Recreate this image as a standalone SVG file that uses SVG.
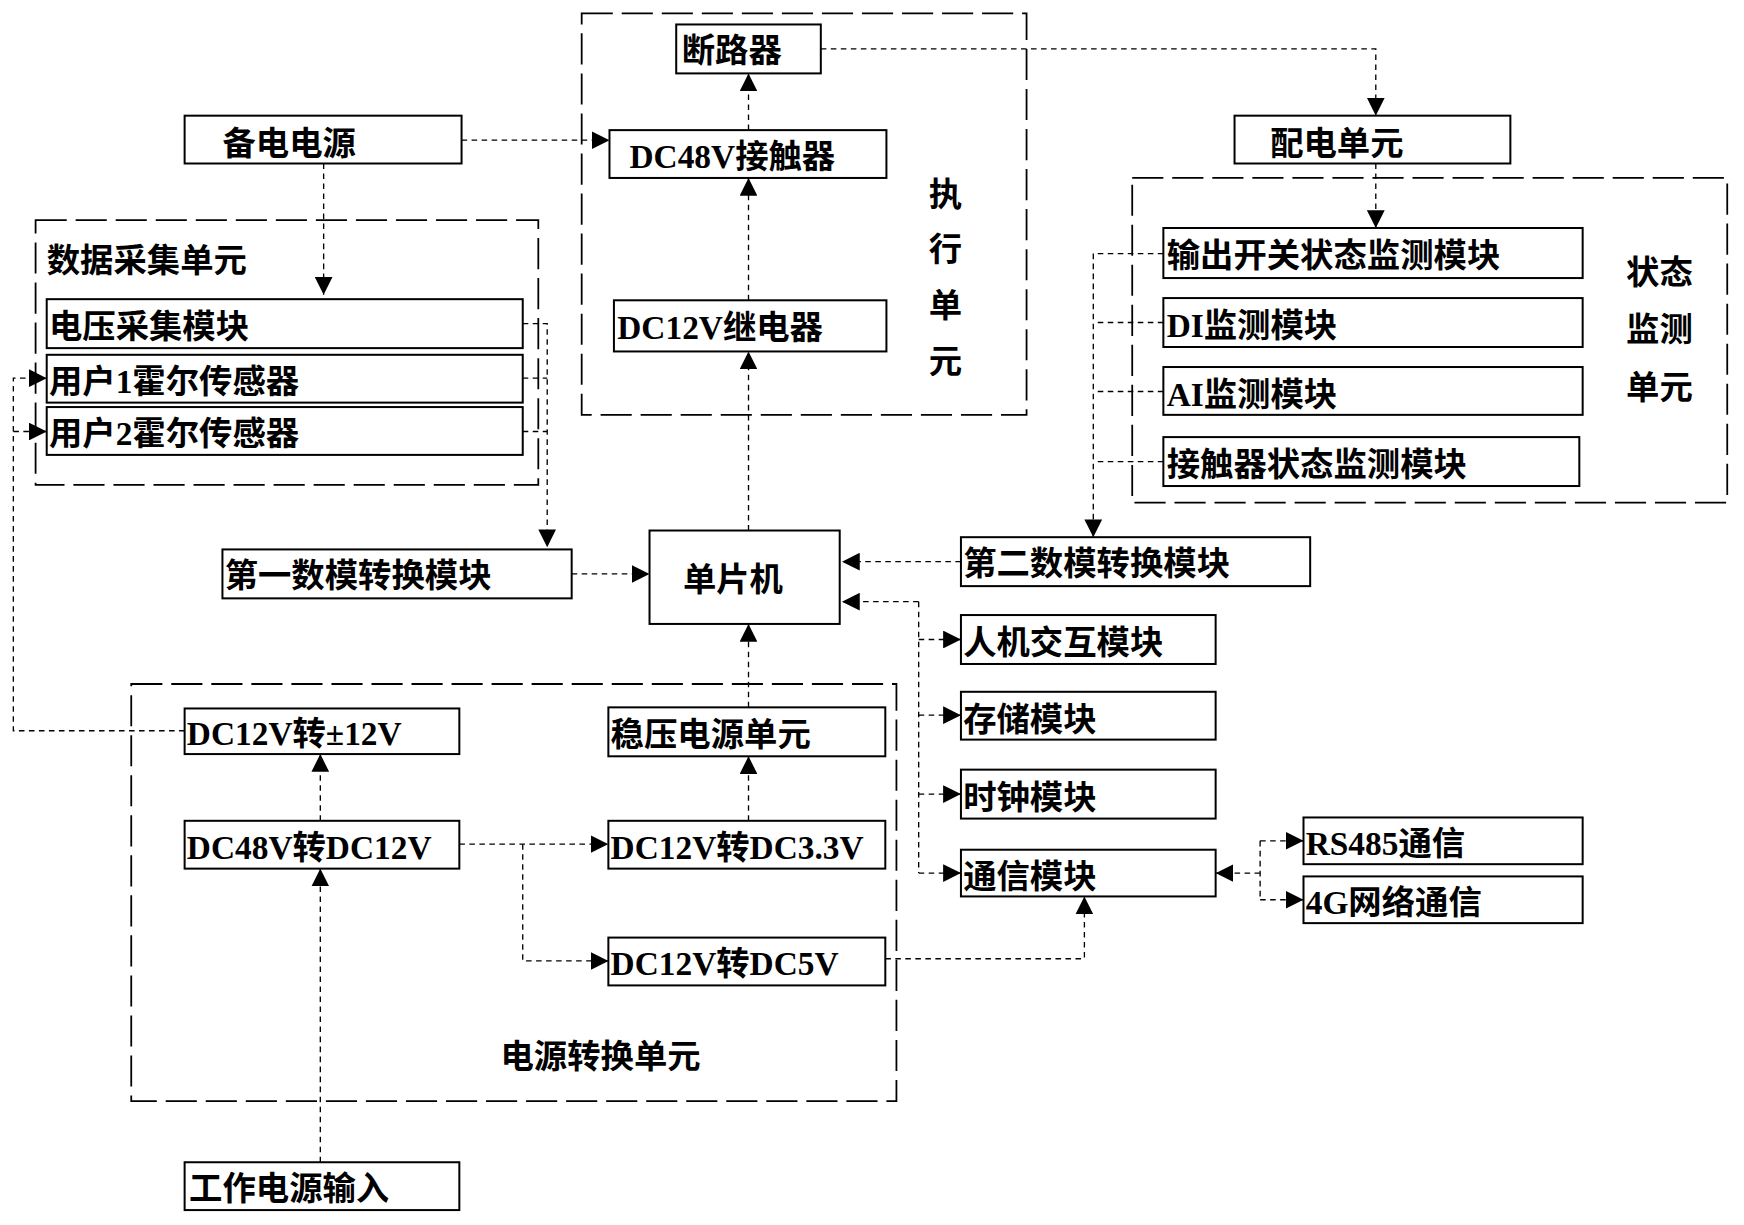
<svg xmlns="http://www.w3.org/2000/svg" width="1744" height="1225" viewBox="0 0 1744 1225">
<defs>
<style>
.b{fill:#fff;stroke:#000;stroke-width:1.8}
.g{fill:none;stroke:#000;stroke-width:1.6;stroke-dasharray:28 8}
.c{fill:none;stroke:#000;stroke-width:1.2;stroke-dasharray:5 4}
text{font-family:"Liberation Serif","Noto Sans CJK SC",serif;font-size:30px;font-weight:bold;fill:#000}
</style>
<marker id="a" viewBox="0 0 10 10" refX="10" refY="5" markerWidth="16" markerHeight="16" markerUnits="userSpaceOnUse" orient="auto"><path d="M0,0L10,5L0,10z" fill="#000"/></marker>
</defs>
<rect width="1744" height="1225" fill="#fff"/>
<g transform="scale(1.1122)">
<g id="groups">
<path class="g" d="M523,12H923V373H523Z"/>
<path class="g" d="M32,198H484V436H32Z"/>
<path class="g" d="M1018,160H1553V452H1018Z"/>
<path class="g" d="M118,615H806V990H118Z"/>
<text x="835" y="185">执</text><text x="835" y="235">行</text><text x="835" y="285">单</text><text x="835" y="335">元</text>
<text x="42" y="245">数据采集单元</text>
<text x="1462" y="255">状态</text><text x="1462" y="307">监测</text><text x="1462" y="359">单元</text>
<text x="450" y="960">电源转换单元</text>
</g>
<g id="connectors" class="c" marker-end="url(#a)">
<path d="M738,44H1237V104"/>
<path d="M415,126H548"/>
<path d="M291,147V265"/>
<path d="M673,117V66"/>
<path d="M673,270V160"/>
<path d="M673,477V316"/>
<path d="M1237,147V205"/>
<path d="M470,291H492V492" />
<path d="M470,340H492" marker-end="none"/>
<path d="M470,388H492" marker-end="none"/>
<path d="M514,516H584"/>
<path d="M864,505H757"/>
<path d="M1046,228H983V483"/>
<path d="M1046,290H985" marker-end="none"/>
<path d="M1046,352H985" marker-end="none"/>
<path d="M1046,415H985" marker-end="none"/>
<path d="M826,541H757"/>
<path d="M826,541V785" marker-end="none"/>
<path d="M826,575H864"/><path d="M826,643H864"/><path d="M826,714H864"/><path d="M826,785H864"/>
<path d="M1133,785H1093"/>
<path d="M1133,756V809" marker-end="none"/>
<path d="M1133,756H1172"/><path d="M1133,809H1172"/>
<path d="M796,862H975V806"/>
<path d="M673,636V561"/>
<path d="M673,738V680"/>
<path d="M413,759H547"/>
<path d="M470,759V864H547"/>
<path d="M288,738V678"/>
<path d="M288,1045V781"/>
<path d="M166,657H12V340H42"/>
<path d="M12,388H42"/>
</g>
<g id="n1"><rect class="b" x="608" y="22" width="130" height="44"/><text x="613" y="56">断路器</text></g>
<g id="n2"><rect class="b" x="548" y="117" width="249" height="43"/><text x="566" y="151">DC48V接触器</text></g>
<g id="n3"><rect class="b" x="552" y="270" width="245" height="46"/><text x="555" y="305">DC12V继电器</text></g>
<g id="n4"><rect class="b" x="166" y="104" width="249" height="43"/><text x="200" y="139">备电电源</text></g>
<g id="n5"><rect class="b" x="42" y="269" width="428" height="44"/><text x="44" y="304">电压采集模块</text></g>
<g id="n6"><rect class="b" x="42" y="319" width="428" height="43"/><text x="44" y="353">用户1霍尔传感器</text></g>
<g id="n7"><rect class="b" x="42" y="366" width="428" height="43"/><text x="44" y="400">用户2霍尔传感器</text></g>
<g id="n8"><rect class="b" x="200" y="494" width="314" height="44"/><text x="202" y="528">第一数模转换模块</text></g>
<g id="n9"><rect class="b" x="584" y="477" width="171" height="84"/><text x="614" y="531">单片机</text></g>
<g id="n10"><rect class="b" x="864" y="483" width="314" height="44"/><text x="866" y="517">第二数模转换模块</text></g>
<g id="n11"><rect class="b" x="1110" y="104" width="248" height="43"/><text x="1142" y="139">配电单元</text></g>
<g id="n12"><rect class="b" x="1046" y="205" width="377" height="45"/><text x="1049" y="240">输出开关状态监测模块</text></g>
<g id="n13"><rect class="b" x="1046" y="268" width="377" height="44"/><text x="1049" y="303">DI监测模块</text></g>
<g id="n14"><rect class="b" x="1046" y="330" width="377" height="43"/><text x="1049" y="365">AI监测模块</text></g>
<g id="n15"><rect class="b" x="1046" y="393" width="374" height="44"/><text x="1049" y="428">接触器状态监测模块</text></g>
<g id="n16"><rect class="b" x="864" y="553" width="229" height="44"/><text x="866" y="588">人机交互模块</text></g>
<g id="n17"><rect class="b" x="864" y="622" width="229" height="43"/><text x="866" y="657">存储模块</text></g>
<g id="n18"><rect class="b" x="864" y="692" width="229" height="44"/><text x="866" y="727">时钟模块</text></g>
<g id="n19"><rect class="b" x="864" y="764" width="229" height="42"/><text x="866" y="798">通信模块</text></g>
<g id="n20"><rect class="b" x="1172" y="735" width="251" height="42"/><text x="1174" y="769">RS485通信</text></g>
<g id="n21"><rect class="b" x="1172" y="788" width="251" height="42"/><text x="1174" y="822">4G网络通信</text></g>
<g id="n22"><rect class="b" x="166" y="637" width="247" height="41"/><text x="168" y="670">DC12V转±12V</text></g>
<g id="n23"><rect class="b" x="547" y="636" width="249" height="44"/><text x="549" y="671">稳压电源单元</text></g>
<g id="n24"><rect class="b" x="166" y="738" width="247" height="43"/><text x="168" y="772">DC48V转DC12V</text></g>
<g id="n25"><rect class="b" x="547" y="738" width="249" height="43"/><text x="549" y="772">DC12V转DC3.3V</text></g>
<g id="n26"><rect class="b" x="547" y="843" width="249" height="43"/><text x="549" y="877">DC12V转DC5V</text></g>
<g id="n27"><rect class="b" x="166" y="1045" width="247" height="43"/><text x="170" y="1079">工作电源输入</text></g>
</g>
</svg>
